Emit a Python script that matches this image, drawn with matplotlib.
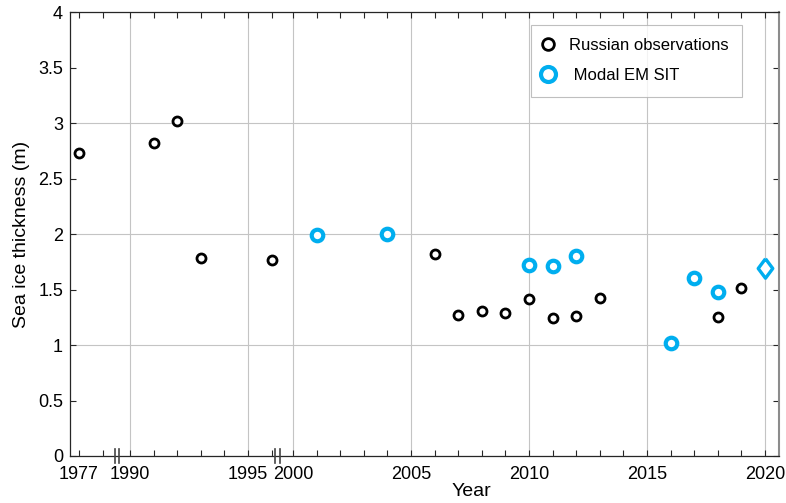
import numpy as np
import matplotlib
matplotlib.use("Agg")
import matplotlib.pyplot as plt
from matplotlib.ticker import FixedLocator, FixedFormatter
import matplotlib.transforms as mtransforms

# Russian observations (year, thickness m)
rus_years = [1977, 1991, 1992, 1993, 1996, 2006, 2007, 2008, 2009, 2010,
             2011, 2012, 2013, 2018, 2019]
rus_sit = [2.73, 2.82, 3.02, 1.78, 1.77, 1.82, 1.27, 1.31, 1.29, 1.41,
           1.24, 1.26, 1.42, 1.25, 1.51]

# Modal EM sea ice thickness
em_years = [2001, 2004, 2010, 2011, 2012, 2016, 2017, 2018]
em_sit = [1.99, 2.00, 1.72, 1.71, 1.80, 1.02, 1.60, 1.48]

# single diamond point
dia_years = [2020]
dia_sit = [1.69]

label_years = [1977, 1990, 1995, 2000, 2005, 2010, 2015, 2020]
minor_years = [1977, 1978] + list(range(1990, 1997)) + list(range(2000, 2021))

# broken axis: compress the gaps 1978.6-1989.45 and 1996.25-1999.37
knot_years = np.array([1960, 1978.6, 1989.45, 1996.25, 1999.37, 2040])
knot_u = np.array([1960 + 13.932, 1978.6 + 13.932, 1989.45 + 3.093,
                   1996.25 + 3.093, 1999.37, 2040])


def fwd(x):
    return np.interp(x, knot_years, knot_u)


def inv(u):
    return np.interp(u, knot_u, knot_years)


BLUE = "#00AEEF"
DIAMOND = [(0, 1), (0.75, 0), (0, -1), (-0.75, 0), (0, 1)]
plt.rcParams["font.family"] = ["Liberation Sans", "DejaVu Sans"]

fig = plt.figure(figsize=(7.86, 5.03), dpi=100)
ax = fig.add_axes([70 / 786, 1 - 456 / 503, 709 / 786, 444 / 503])
ax.set_xscale("function", functions=(fwd, inv))

ax.plot(rus_years, rus_sit, "o", ls="none", mec="black", mfc="white",
        ms=6.5, mew=2.0, label="Russian observations", zorder=3)
ax.plot(em_years, em_sit, "o", ls="none", mec=BLUE, mfc="white",
        ms=8.3, mew=3.0, label=" Modal EM SIT", zorder=3)
ax.plot(dia_years, dia_sit, marker=DIAMOND, ls="none", mec=BLUE,
        mfc="white", ms=14, mew=2.4, zorder=3)

ax.set_xlim(1976.62, 2020.59)
ax.set_ylim(0, 4)

ax.xaxis.set_major_locator(FixedLocator(label_years))
ax.xaxis.set_major_formatter(FixedFormatter([str(y) for y in label_years]))
ax.xaxis.set_minor_locator(FixedLocator(minor_years))

ax.yaxis.set_major_locator(FixedLocator([0, 1, 2, 3, 4]))
ax.yaxis.set_major_formatter(FixedFormatter(["0", "1", "2", "3", "4"]))
ax.yaxis.set_minor_locator(FixedLocator([0.5, 1.5, 2.5, 3.5]))
ax.yaxis.set_minor_formatter(FixedFormatter(["0.5", "1.5", "2.5", "3.5"]))

ax.tick_params(which="both", direction="in", top=True, right=True,
               length=4, width=0.8, colors="#262626", labelsize=13,
               labelcolor="black")
ax.tick_params(axis="x", which="both", pad=7)
ax.tick_params(axis="y", which="both", pad=5)

ax.grid(True, which="major", color="#c4c4c4", lw=0.8)
ax.get_xgridlines()[0].set_visible(False)

for s in ax.spines.values():
    s.set_color("#262626")
    s.set_linewidth(0.9)
ax.spines["right"].set_color("#8c8c8c")
ax.spines["right"].set_linewidth(1.5)

# break marks on the x axis
trans = mtransforms.blended_transform_factory(ax.transData, ax.transAxes)
for yb in [1978.6, 1996.25]:
    ub = fwd(yb)
    for du in [-0.09, 0.09]:
        ax.plot([inv(ub + du)] * 2, [-0.016, 0.016], color="#444444",
                lw=1.2, transform=trans, clip_on=False, zorder=5)

ax.set_xlabel("Year", fontsize=14)
ax.xaxis.set_label_coords(0.566, -0.061)
ax.set_ylabel("Sea ice thickness (m)", fontsize=14, labelpad=6)

leg = ax.legend(loc="upper right", bbox_to_anchor=(0.948, 0.971),
                fontsize=12, frameon=True, fancybox=False,
                borderpad=0.8, handletextpad=1.08, labelspacing=0.9,
                handlelength=0.4, markerscale=1.3, borderaxespad=0)
leg.get_frame().set_edgecolor("#b0b0b0")
leg.get_frame().set_linewidth(0.8)

fig.savefig("out.png", dpi=100)
